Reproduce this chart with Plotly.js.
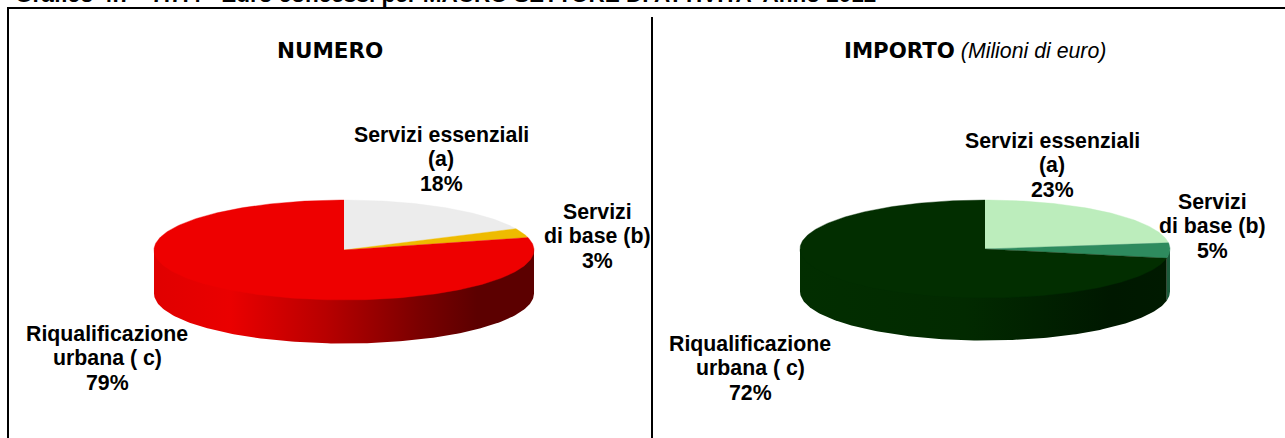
<!DOCTYPE html>
<html>
<head>
<meta charset="utf-8">
<script src="https://cdn.plot.ly/plotly-3.0.1.min.js"></script>
<style>html,body{margin:0;padding:0;background:#fff;overflow:hidden}#chart{width:1285px;height:438px}</style>
</head>
<body>
<div id="chart"></div>
<script>
const categories = ["Servizi essenziali (a)", "Servizi di base (b)", "Riqualificazione urbana ( c)"];
const valuesNumero = [18, 3, 79];
const valuesImporto = [23, 5, 72];
const coloursNumero = ["#ececec", "#eebb00", "#ee0000"];
const coloursImporto = ["#bcedbc", "#2e8b5e", "#022e00"];
const sideNumero = [[0, "#e00000"], [0.2, "#ea0000"], [0.45, "#b80000"], [0.7, "#7a0000"], [0.85, "#5c0000"], [1, "#5c0000"]];
const sideImporto = [[0, "#022e00"], [0.45, "#022a00"], [0.85, "#001800"], [1, "#001a00"]];
const sideSliver = "#1c5c3c";

const FONT = "Liberation Sans, Arial, sans-serif";
const traces = [];

function pt(p, deg, dy) {
  const a = deg * Math.PI / 180;
  return [p.cx + p.rx * Math.sin(a), p.cy - p.ry * Math.cos(a) + (dy || 0)];
}
function arc(p, a0, a1, dy) {
  const n = Math.max(2, Math.ceil(Math.abs(a1 - a0)));
  const out = [];
  for (let i = 0; i <= n; i++) out.push(pt(p, a0 + (a1 - a0) * i / n, dy));
  return out;
}
function addPoly(pts, colour, gradient, edge) {
  const t = {
    type: "scatter", mode: "lines", hoverinfo: "skip", showlegend: false,
    x: pts.map(q => q[0]), y: pts.map(q => q[1]),
    line: {width: edge || 0, color: colour || "rgba(0,0,0,0)"},
    fill: "toself", fillcolor: colour || "rgba(0,0,0,0)"
  };
  if (gradient) t.fillgradient = {type: "horizontal", colorscale: gradient};
  traces.push(t);
}
function addSide(p, a0, a1, colour, gradient) {
  const lo = Math.max(a0, 90), hi = Math.min(a1, 270);
  if (hi <= lo) return;
  // the wall runs up under the top face so that no seam shows along the rim
  addPoly(arc(p, lo, hi, p.depth).concat([pt(p, hi, 0), pt(p, lo, 0)]), colour, gradient);
}
function addPie(p, values, colours, side, sliver) {
  const total = values.reduce((s, v) => s + v, 0);
  let start = 0;
  const spans = values.map(v => { const s = [start, start + v / total * 360]; start = s[1]; return s; });
  spans.forEach((s, i) => {
    if (i !== 2 && sliver) addSide(p, s[0], s[1], sliver);
  });
  addSide(p, spans[2][0], spans[2][1], null, side);
  spans.forEach((s, i) => {
    addPoly([[p.cx, p.cy]].concat(arc(p, s[0], s[1], 0)), colours[i], null, 0.4);
  });
}
addPie({cx: 344, cy: 250, rx: 190, ry: 50, depth: 43.5}, valuesNumero, coloursNumero, sideNumero);
addPie({cx: 985, cy: 249, rx: 185, ry: 49, depth: 42.5}, valuesImporto, coloursImporto, sideImporto, sideSliver);

function label(x, y, text, size, extra) {
  return Object.assign({
    xref: "x", yref: "y", x, y, text, showarrow: false, xanchor: "center", yanchor: "middle", align: "center",
    font: {family: FONT, size: size || 21.3, color: "#000"}
  }, extra || {});
}
const lab = (x, y, lines) => lines.map((s, i) => label(x, y + i * 24.3, "<b>" + s + "</b>"));

const annotations = [
  {xref: "paper", yref: "paper", x: 13 / 1285, y: 1, xanchor: "left", yanchor: "bottom", yshift: -9, showarrow: false,
   text: "<b>Grafico 4.7 - 7.7.4 - Euro concessi per MACRO SETTORE DI ATTIVITA' Anno 2012</b>",
   font: {family: FONT, size: 22.5, color: "#000"}},
  label(330, 50, "<b>NUMERO</b>", 21.5, {font: {family: "DejaVu Sans, sans-serif", size: 21.5, color: "#000"}}),
  label(975, 50, "<b style='font-family:DejaVu Sans'>IMPORTO</b> <i>(Milioni di euro)</i>", 21.3),
  ...lab(441, 135, ["Servizi essenziali", "(a)", valuesNumero[0] + "%"]),
  ...lab(597, 212, ["Servizi", "di base (b)", valuesNumero[1] + "%"]),
  ...lab(107, 334, ["Riqualificazione", "urbana ( c)", valuesNumero[2] + "%"]),
  ...lab(1052, 141, ["Servizi essenziali", "(a)", valuesImporto[0] + "%"]),
  ...lab(1212, 202, ["Servizi", "di base (b)", valuesImporto[1] + "%"]),
  ...lab(750, 344, ["Riqualificazione", "urbana ( c)", valuesImporto[2] + "%"])
];

const frame = {color: "#000", width: 2};
const shapes = [
  {type: "line", xref: "x", yref: "y", x0: 7, x1: 1285, y0: 8, y1: 8, line: frame},
  {type: "line", xref: "x", yref: "y", x0: 8, x1: 8, y0: 7, y1: 438, line: frame},
  {type: "line", xref: "x", yref: "y", x0: 652, x1: 652, y0: 17, y1: 438, line: frame}
];

const hidden = {visible: false, fixedrange: true};
Plotly.newPlot("chart", traces, {
  width: 1285, height: 438,
  margin: {l: 0, r: 0, t: 0, b: 0},
  paper_bgcolor: "#fff", plot_bgcolor: "#fff",
  xaxis: Object.assign({range: [0, 1285]}, hidden),
  yaxis: Object.assign({range: [438, 0]}, hidden),
  showlegend: false, annotations, shapes
}, {displayModeBar: false, staticPlot: true});
</script>
</body>
</html>
